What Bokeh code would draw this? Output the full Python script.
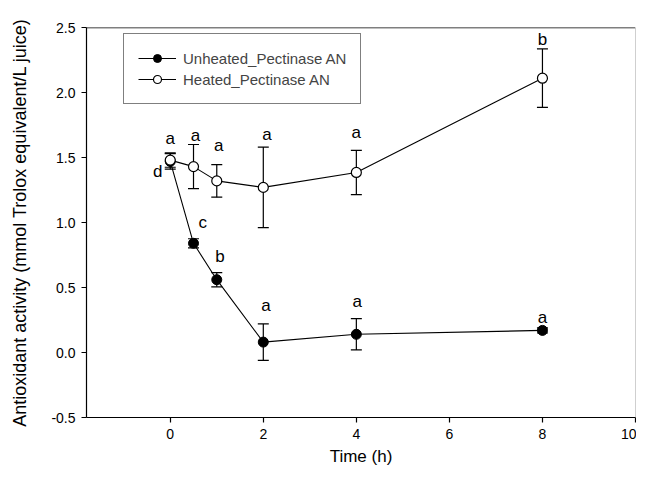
from bokeh.plotting import figure
from bokeh.models import (ColumnDataSource, Whisker, TeeHead, FixedTicker, Legend,
                          LegendItem, Range1d, NumeralTickFormatter, Span)
from bokeh.embed import file_html
from bokeh.resources import INLINE
from bokeh.core.properties import value

# ---- data ----
time_h = [0, 0.5, 1, 2, 4, 8]
unheated = [1.47, 0.84, 0.56, 0.08, 0.14, 0.17]
unheated_err = [0.06, 0.035, 0.055, 0.14, 0.12, 0.02]
heated = [1.48, 1.43, 1.32, 1.27, 1.385, 2.11]
heated_err = [0.055, 0.17, 0.125, 0.31, 0.17, 0.225]

unheated_letters = ["d", "c", "b", "a", "a", "a"]
unheated_letter_x = [-0.27, 0.7, 1.07, 2.06, 4.02, 8.0]
unheated_letter_y = [1.39, 1.0, 0.74, 0.36, 0.39, 0.27]
heated_letters = ["a", "a", "a", "a", "a", "b"]
heated_letter_x = [0.0, 0.54, 1.04, 2.08, 4.0, 8.0]
heated_letter_y = [1.65, 1.67, 1.59, 1.68, 1.69, 2.41]

x_ticks = [0, 2, 4, 6, 8, 10]
y_ticks = [-0.5, 0.0, 0.5, 1.0, 1.5, 2.0, 2.5]

FONT = "Liberation Sans"

p = figure(width=636, height=469, x_range=Range1d(-1.8, 10), y_range=Range1d(-0.5, 2.5),
           output_backend="svg", toolbar_location=None,
           min_border_left=86, min_border_right=1, min_border_top=27, min_border_bottom=52)
p.outline_line_color = None
p.grid.visible = False
p.background_fill_color = "white"
p.border_fill_color = "white"

for ax in (p.xaxis[0], p.yaxis[0]):
    ax.axis_line_color = "black"
    ax.axis_line_width = 1.2
    ax.major_tick_line_color = "black"
    ax.major_tick_line_width = 1.2
    ax.major_tick_out = 5
    ax.major_tick_in = 0
    ax.minor_tick_line_color = None
    ax.major_label_text_font = FONT
    ax.major_label_text_font_size = "14px"
    ax.major_label_text_color = "black"
    ax.axis_label_text_font = FONT
    ax.axis_label_text_font_style = "normal"
    ax.axis_label_text_color = "black"

p.xaxis.axis_label_text_font_size = "17px"
p.yaxis.axis_label_text_font_size = "18px"
p.xaxis.ticker = FixedTicker(ticks=x_ticks, minor_ticks=[])
p.yaxis.ticker = FixedTicker(ticks=y_ticks, minor_ticks=[])
p.yaxis.formatter = NumeralTickFormatter(format="0.0")
p.xaxis.axis_label = "Time (h)"
p.yaxis.axis_label = "Antioxidant activity (mmol Trolox equivalent/L juice)"
p.xaxis.major_label_standoff = 6
p.xaxis.axis_label_standoff = 5
p.yaxis.major_label_standoff = 6
p.yaxis.axis_label_standoff = 18

# frame top (black) and right (gray) borders
p.add_layout(Span(location=2.5, dimension="width", line_color="black", line_width=1.5))
p.add_layout(Span(location=10, dimension="height", line_color="#a0a0a0", line_width=1))

src_u = ColumnDataSource(dict(x=time_h, y=unheated,
                              upper=[v + e for v, e in zip(unheated, unheated_err)],
                              lower=[v - e for v, e in zip(unheated, unheated_err)]))
src_h = ColumnDataSource(dict(x=time_h, y=heated,
                              upper=[v + e for v, e in zip(heated, heated_err)],
                              lower=[v - e for v, e in zip(heated, heated_err)]))

for src in (src_u, src_h):
    p.add_layout(Whisker(source=src, base="x", upper="upper", lower="lower",
                         dimension="height", line_color="black", line_width=1.2,
                         upper_head=TeeHead(size=11, line_color="black", line_width=1.2),
                         lower_head=TeeHead(size=11, line_color="black", line_width=1.2),
                         level="underlay"))

lu = p.line("x", "y", source=src_u, line_color="black", line_width=1.1)
su = p.scatter("x", "y", source=src_u, size=10, marker="circle",
               fill_color="black", line_color="black", line_width=1)
lh = p.line("x", "y", source=src_h, line_color="black", line_width=1.1)
sh = p.scatter("x", "y", source=src_h, size=10, marker="circle",
               fill_color="white", line_color="black", line_width=1.2)

lbl_u = ColumnDataSource(dict(x=unheated_letter_x, y=unheated_letter_y, t=unheated_letters))
lbl_h = ColumnDataSource(dict(x=heated_letter_x, y=heated_letter_y, t=heated_letters))
for src in (lbl_u, lbl_h):
    p.text("x", "y", text="t", source=src, text_font=value(FONT), text_font_size="17px",
           text_align="center", text_baseline="middle", text_color="black")

legend = Legend(items=[LegendItem(label="Unheated_Pectinase AN", renderers=[lu, su]),
                       LegendItem(label="Heated_Pectinase AN", renderers=[lh, sh])],
                location=(37, 313), border_line_color="black", border_line_width=1,
                background_fill_color="white", background_fill_alpha=1,
                padding=14, spacing=1, margin=0, glyph_width=38, glyph_height=20,
                label_height=20, label_standoff=7,
                label_text_font=FONT, label_text_font_size="15px")
p.add_layout(legend)

open("out.html", "w").write(file_html(p, INLINE))
